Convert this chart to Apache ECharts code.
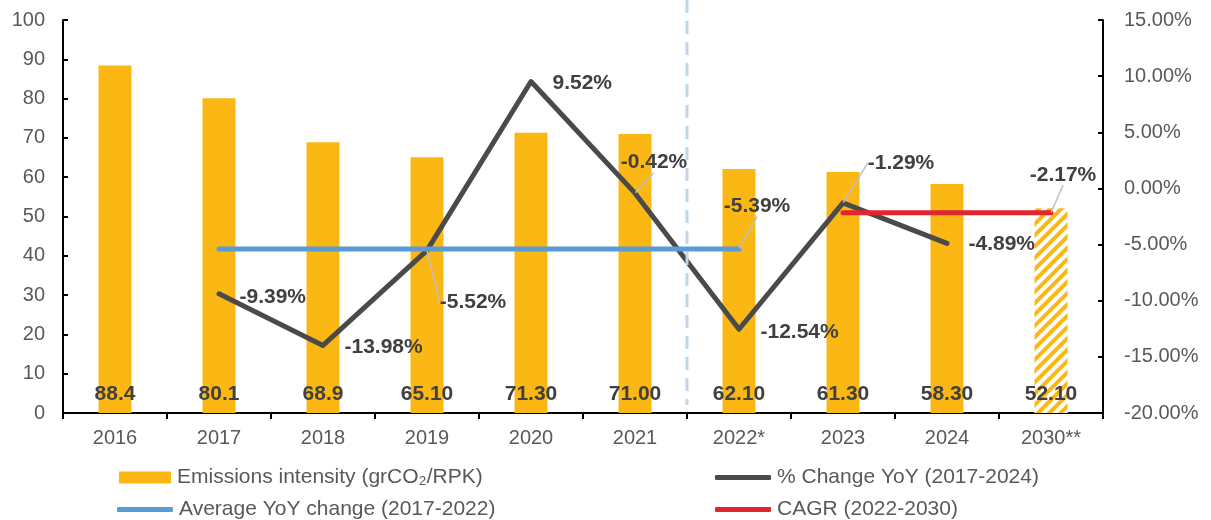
<!DOCTYPE html>
<html>
<head>
<meta charset="utf-8">
<script src="https://cdn.jsdelivr.net/npm/echarts@6/dist/echarts.min.js"></script>
<style>
  html, body { margin: 0; padding: 0; background: #fff; }
  #chart { width: 1211px; height: 520px; }
</style>
</head>
<body>
<div id="chart"></div>
<script>
// ---- Data ----
const categories = ['2016', '2017', '2018', '2019', '2020', '2021', '2022*', '2023', '2024', '2030**'];
const emissionsIntensity = [88.4, 80.1, 68.9, 65.1, 71.3, 71.0, 62.1, 61.3, 58.3, 52.1];
const emissionsLabels = ['88.4', '80.1', '68.9', '65.10', '71.30', '71.00', '62.10', '61.30', '58.30', '52.10'];
const changeYoY = [null, -9.39, -13.98, -5.52, 9.52, -0.42, -12.54, -1.29, -4.89, null];
const averageYoY = [null, -5.39, -5.39, -5.39, -5.39, -5.39, -5.39, null, null, null];
const cagr = [null, null, null, null, null, null, null, -2.17, -2.17, -2.17];
const leftTicks = { min: 0, max: 100, interval: 10 };
const rightTicks = { min: -20, max: 15, interval: 5 };
const projectedCategory = '2030**';
const dividerAfter = '2021';

const names = {
  bar: 'Emissions intensity (grCO\u2082/RPK)',
  yoy: '% Change YoY (2017-2024)',
  avg: 'Average YoY change (2017-2022)',
  cagr: 'CAGR (2022-2030)'
};

// ---- Styling ----
const FONT = 'Liberation Sans, Arial, sans-serif';
const GOLD = '#FBB714';
const DARK = '#4A4A4A';
const BLUE = '#5B9BD5';
const RED = '#E0262E';
const TXT = '#595959';
const LBL = '#404040';

const pct = p => p.value.toFixed(2) + '%';
const labelBase = { show: true, fontFamily: FONT, fontWeight: 'bold', fontSize: 21, color: LBL, formatter: pct };
const leader = { show: true, lineStyle: { color: '#BFBFBF', width: 1.5 }, length2: 0 };

// label placement (pixel styling) for the YoY line, by category
const yoyLabelStyle = {
  '2017': { position: 'right', distance: 20, dy: 3 },
  '2018': { position: 'right', distance: 21, dy: 2 },
  '2019': { position: 'inside', dx: 46, dy: 52, leader: true },
  '2020': { position: 'right', distance: 21, dy: 2 },
  '2021': { position: 'inside', dx: 19, dy: -31, leader: true },
  '2022*': { position: 'right', distance: 21, dy: 3 },
  '2023': { position: 'inside', dx: 58, dy: -40, leader: true },
  '2024': { position: 'right', distance: 21, dy: 1 }
};
const avgLabelShift = { dx: 18, dy: -43 };
const cagrLabelShift = { dx: 12, dy: -38 };

const barData = emissionsIntensity.map((v, i) => {
  const item = { value: v };
  if (categories[i] === projectedCategory) {
    item.itemStyle = {
      color: '#ffffff',
      decal: {
        symbol: 'rect', color: GOLD, backgroundColor: '#ffffff',
        dashArrayX: [1, 0], dashArrayY: [4, 4], rotation: -Math.PI / 4,
        symbolSize: 1
      }
    };
  }
  return item;
});

const yoyData = changeYoY.map((v, i) => {
  const s = yoyLabelStyle[categories[i]];
  if (v === null || !s) return { value: v };
  const item = {
    value: v,
    label: Object.assign({}, labelBase, { position: s.position }, s.distance ? { distance: s.distance } : {})
  };
  if (s.leader) item.labelLine = leader;
  return item;
});

function lastLabelData(arr) {
  let last = -1;
  arr.forEach((v, i) => { if (v !== null) last = i; });
  return arr.map((v, i) => {
    if (i !== last) return { value: v, label: { show: false } };
    return { value: v, label: Object.assign({}, labelBase, { position: 'inside' }), labelLine: leader };
  });
}

const chart = echarts.init(document.getElementById('chart'), null, { renderer: 'canvas' });

function legendFor(name, left, top, icon, w, h) {
  return {
    data: [{ name: name, icon: icon }],
    left: left, top: top, padding: 0,
    itemWidth: w, itemHeight: h, itemGap: 0,
    textStyle: { fontFamily: FONT, fontSize: 21, color: TXT, padding: [0, 0, 0, 1] },
    selectedMode: false
  };
}

const option = {
  animation: false,
  backgroundColor: '#ffffff',
  grid: { left: 63, right: 108, top: 20, bottom: 107, containLabel: false },
  legend: [
    legendFor(names.bar, 119, 467, 'rect', 52, 12),
    legendFor(names.avg, 117, 499, 'roundRect', 56, 5),
    legendFor(names.yoy, 715, 467, 'roundRect', 56, 5),
    legendFor(names.cagr, 715, 499, 'roundRect', 56, 5)
  ],
  xAxis: {
    type: 'category',
    data: categories,
    axisLine: { lineStyle: { color: '#000', width: 2 } },
    axisTick: { show: true, length: 6, lineStyle: { color: '#000', width: 2 } },
    axisLabel: { fontFamily: FONT, fontSize: 20, color: TXT, margin: 15 }
  },
  yAxis: [
    {
      type: 'value', min: leftTicks.min, max: leftTicks.max, interval: leftTicks.interval,
      axisLine: { show: true, lineStyle: { color: '#000', width: 2 } },
      axisTick: { show: true, inside: true, length: 5, lineStyle: { color: '#000', width: 2 } },
      splitLine: { show: false },
      axisLabel: { fontFamily: FONT, fontSize: 20, color: TXT, margin: 18 }
    },
    {
      type: 'value', min: rightTicks.min, max: rightTicks.max, interval: rightTicks.interval,
      position: 'right',
      axisLine: { show: true, lineStyle: { color: '#000', width: 2 } },
      axisTick: { show: true, inside: true, length: 5, lineStyle: { color: '#000', width: 2 } },
      splitLine: { show: false },
      axisLabel: { fontFamily: FONT, fontSize: 20, color: TXT, margin: 21, formatter: v => v.toFixed(2) + '%' }
    }
  ],
  series: [
    {
      name: names.bar, type: 'bar', yAxisIndex: 0, barWidth: 33,
      itemStyle: { color: GOLD },
      data: barData,
      label: {
        show: true, position: 'insideBottom', distance: 8,
        fontFamily: FONT, fontWeight: 'bold', fontSize: 21, color: LBL,
        formatter: p => emissionsLabels[p.dataIndex]
      },
      z: 1
    },
    {
      type: 'custom', name: 'divider', yAxisIndex: 0, silent: true,
      data: [[categories.indexOf(dividerAfter)]],
      renderItem: function (params, api) {
        const idx = api.value(0);
        const xa = api.coord([idx, 0])[0];
        const xb = api.coord([idx + 1, 0])[0];
        const x = (xa + xb) / 2;
        const bottom = api.coord([idx, 0])[1];
        return {
          type: 'line',
          shape: { x1: x, y1: 0, x2: x, y2: bottom - 8 },
          style: { stroke: '#BDD7EE', lineWidth: 3, lineDash: [13, 8] }
        };
      },
      z: 4
    },
    {
      name: names.yoy, type: 'line', yAxisIndex: 1,
      data: yoyData,
      symbol: 'circle', symbolSize: 1, showSymbol: true,
      lineStyle: { color: DARK, width: 5, cap: 'round', join: 'round' },
      itemStyle: { color: DARK },
      label: { show: false },
      labelLayout: function (p) {
        const s = yoyLabelStyle[categories[p.dataIndex]];
        if (!s) return {};
        return { dx: s.dx || 0, dy: s.dy || 0 };
      },
      z: 3
    },
    {
      name: names.avg, type: 'line', yAxisIndex: 1,
      data: lastLabelData(averageYoY),
      symbol: 'circle', symbolSize: 1, showSymbol: true,
      lineStyle: { color: BLUE, width: 5, cap: 'round' },
      itemStyle: { color: BLUE },
      labelLayout: avgLabelShift,
      z: 3
    },
    {
      name: names.cagr, type: 'line', yAxisIndex: 1,
      data: lastLabelData(cagr),
      symbol: 'circle', symbolSize: 1, showSymbol: true,
      lineStyle: { color: RED, width: 5, cap: 'round' },
      itemStyle: { color: RED },
      labelLayout: cagrLabelShift,
      z: 3
    }
  ]
};

chart.setOption(option);
</script>
</body>
</html>
